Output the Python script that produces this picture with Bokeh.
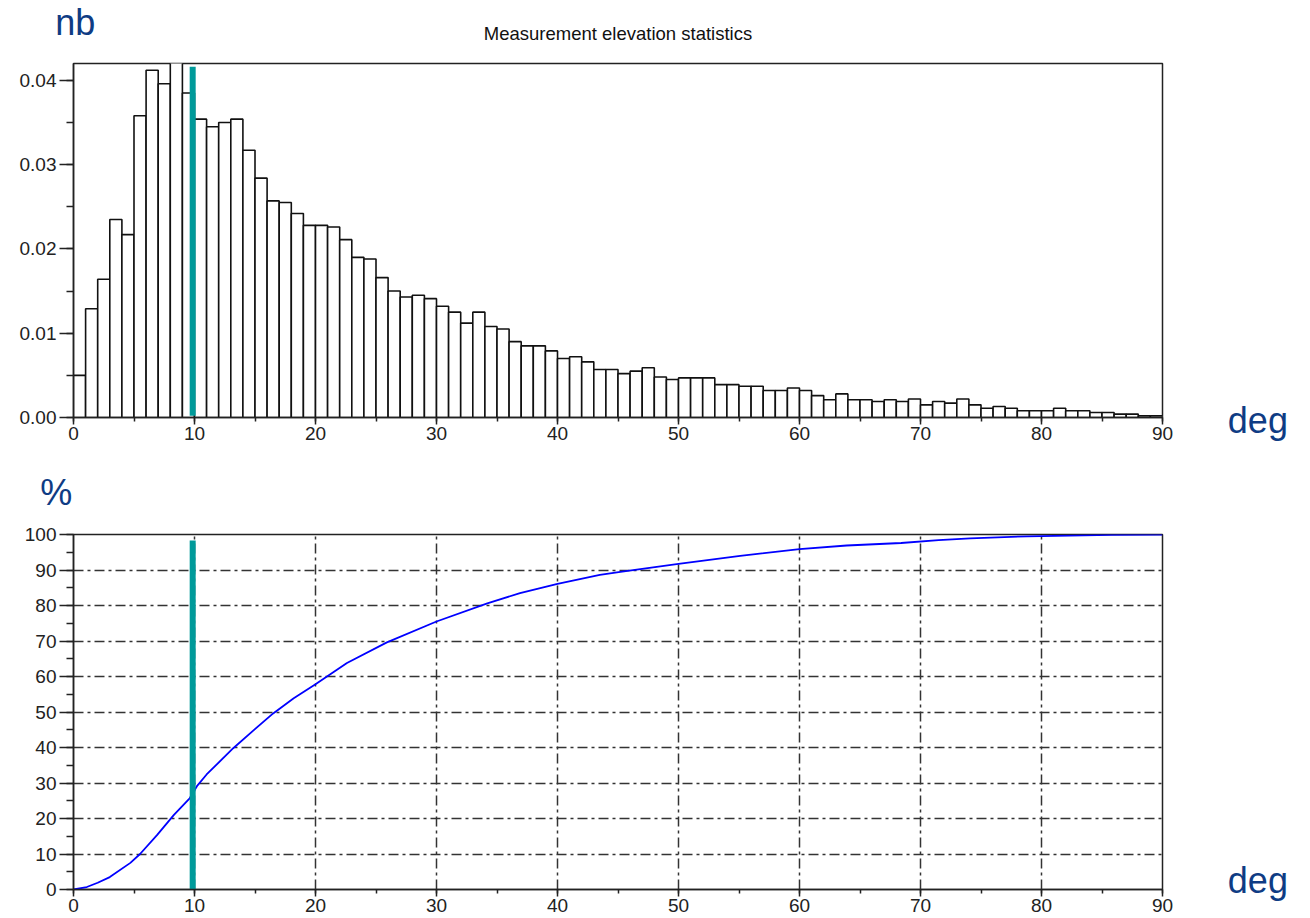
from bokeh.plotting import figure
from bokeh.layouts import column
from bokeh.models import Range1d, SingleIntervalTicker, NumeralTickFormatter, Label
from bokeh.embed import file_html
from bokeh.resources import INLINE

# ---- data ----
bin_start = list(range(0, 90))          # 1-degree bins
bin_width = 1
hist_density = [
    0.0050, 0.0129, 0.0164, 0.0235, 0.0217, 0.0358, 0.0412, 0.0396, 0.0433, 0.0385,
    0.0354, 0.0345, 0.0350, 0.0354, 0.0317, 0.0284, 0.0257, 0.0255, 0.0242, 0.0228,
    0.0228, 0.0226, 0.0211, 0.0190, 0.0188, 0.0166, 0.0150, 0.0143, 0.0145, 0.0141,
    0.0132, 0.0125, 0.0112, 0.0125, 0.0108, 0.0105, 0.0090, 0.0085, 0.0085, 0.0079,
    0.0070, 0.0072, 0.0066, 0.0057, 0.0057, 0.0052, 0.0055, 0.0059, 0.0048, 0.0045,
    0.0047, 0.0047, 0.0047, 0.0039, 0.0039, 0.0037, 0.0037, 0.0032, 0.0032, 0.0035,
    0.0032, 0.0026, 0.0021, 0.0028, 0.0021, 0.0021, 0.0019, 0.0021, 0.0019, 0.0022,
    0.0015, 0.0019, 0.0017, 0.0022, 0.0015, 0.0011, 0.0013, 0.0011, 0.0008, 0.0008,
    0.0008, 0.0011, 0.0008, 0.0008, 0.0006, 0.0006, 0.0004, 0.0004, 0.0002, 0.0002,
]
cum_deg = [0, 1.1, 2.0, 3.0, 4.7, 5.5, 6.9, 8.3, 9.6, 10.2, 11.0, 13.2, 14.9, 16.5, 18.2,
           20.0, 22.6, 25.9, 30.0, 34.2, 36.9, 40.0, 43.5, 45.2, 50.0, 55.1, 60.0,
           63.9, 68.4, 71.5, 74.1, 78.8, 85.8, 90.0]
cum_pct = [0, 0.7, 1.9, 3.5, 7.5, 10.0, 15.3, 21.0, 25.7, 29.1, 32.4, 39.8, 44.9, 49.6, 53.9,
           57.8, 63.8, 69.6, 75.5, 80.6, 83.5, 86.1, 88.6, 89.5, 91.7, 94.0, 95.9,
           96.9, 97.6, 98.4, 98.9, 99.5, 99.9, 100.0]
mask_deg = 9.85
title_text = "Measurement elevation statistics"
x_unit = "deg"
top_y_unit = "nb"
bottom_y_unit = "%"

LABEL_BLUE = "#0f3c84"
TEAL = "#009a9a"
TICK_FONT = "Liberation Sans"


def style(p, y_interval, y_fmt=None):
    p.background_fill_color = "white"
    p.border_fill_color = "white"
    p.outline_line_color = "#222222"
    p.outline_line_width = 1.5
    xa = p.xaxis[0]
    ya = p.yaxis[0]
    xa.ticker = SingleIntervalTicker(interval=10, num_minor_ticks=2)
    ya.ticker = SingleIntervalTicker(interval=y_interval, num_minor_ticks=2)
    if y_fmt:
        ya.formatter = NumeralTickFormatter(format=y_fmt)
    for ax in (xa, ya):
        ax.axis_line_color = "#222222"
        ax.axis_line_width = 1.5
        ax.major_tick_line_color = "#222222"
        ax.minor_tick_line_color = "#222222"
        ax.major_tick_line_width = 1.5
        ax.minor_tick_line_width = 1.5
        ax.major_tick_in = 0
        ax.minor_tick_in = 0
        ax.major_label_text_font = TICK_FONT
        ax.major_label_text_font_size = "19px"
        ax.major_label_text_color = "#222222"
    xa.major_tick_out = 7
    xa.minor_tick_out = 4
    xa.major_label_standoff = 2
    ya.major_tick_out = 14
    ya.minor_tick_out = 7
    ya.major_label_standoff = 3


def unit_label(x, y, text, align="left"):
    return Label(x=x, y=y, text=text, text_align=align, text_baseline="middle",
                 text_font="Liberation Sans", text_font_size="36px",
                 text_color=LABEL_BLUE)


# ---- top: histogram ----
p1 = figure(frame_width=1089, frame_height=354, output_backend="svg",
            toolbar_location=None, x_range=Range1d(0, 90), y_range=Range1d(0, 0.042),
            min_border_left=73, min_border_right=148, min_border_top=63,
            min_border_bottom=48)
style(p1, 0.01, "0.00")
p1.grid.visible = False
lefts = bin_start
rights = [b + bin_width for b in bin_start]
p1.quad(left=lefts, right=rights, bottom=0, top=hist_density,
        fill_color="white", line_color="#111111", line_width=1.6)
p1.segment(x0=[mask_deg], y0=[0.0002], x1=[mask_deg], y1=[0.0416],
           line_color=TEAL, line_width=6)
p1.add_layout(Label(x=45, y=0.0456, text=title_text, text_align="center",
                    text_baseline="middle", text_font=TICK_FONT,
                    text_font_size="18.5px", text_color="#111111"), "above")
p1.add_layout(unit_label(-1.5, 0.0469, top_y_unit), "above")
p1.add_layout(unit_label(95.4, -0.0004, x_unit), "right")

# ---- bottom: cumulative ----
p2 = figure(frame_width=1089, frame_height=355, output_backend="svg",
            toolbar_location=None, x_range=Range1d(0, 90), y_range=Range1d(0, 100),
            min_border_left=73, min_border_right=148, min_border_top=69,
            min_border_bottom=29)
style(p2, 10)
for g in p2.grid:
    g.grid_line_color = "#333333"
    g.grid_line_width = 1.5
    g.grid_line_dash = "10 4 3 4"
p2.line(cum_deg, cum_pct, line_color="#0000ff", line_width=1.8)
p2.segment(x0=[mask_deg], y0=[0], x1=[mask_deg], y1=[98.3],
           line_color=TEAL, line_width=6)
p2.add_layout(unit_label(-2.75, 111.8, bottom_y_unit), "above")
p2.add_layout(unit_label(95.4, 2.6, x_unit), "right")

layout = column(p1, p2)
open("out.html", "w").write(file_html(layout, INLINE))
